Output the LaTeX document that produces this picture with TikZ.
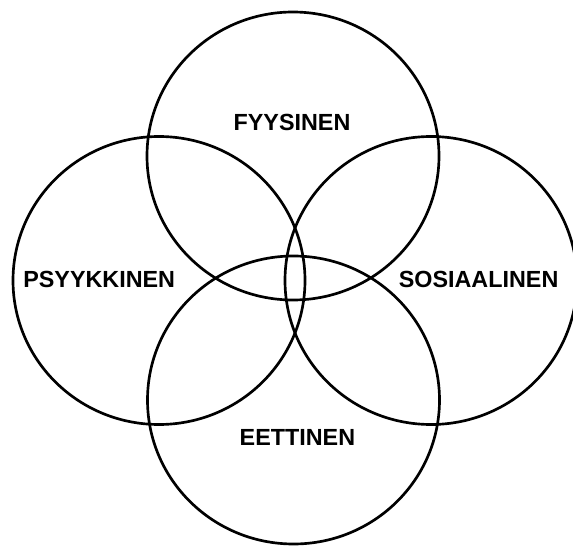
\documentclass[tikz,border=0pt]{standalone}
\usepackage{fontspec}
\setmainfont{Liberation Sans}
\usepackage{tikz}
\usetikzlibrary{positioning}

\tikzset{
  ring/.style={line width=1.9pt},
  areaname/.style={font=\fontsize{16.6}{20}\selectfont\bfseries, inner sep=0pt}
}

\begin{document}
\begin{tikzpicture}[x=0.025cm, y=-0.025cm]
        \useasboundingbox (0,0) rectangle (573,546);
        \draw[ring] (293,156) ellipse [x radius=146, y radius=144];
        \draw[ring] (159,280.5) ellipse [x radius=146, y radius=144];
        \draw[ring] (431,280.5) ellipse [x radius=146, y radius=144];
        \draw[ring] (293.5,400) ellipse [x radius=146, y radius=144];
        \node[areaname] (fyys) at (292,122.6) {FYYSINEN};
        \node[areaname] (psyk) at (99.2,279) {PSYYKKINEN};
        \node[areaname] (sos) at (478.6,279) {SOSIAALINEN};
        \node[areaname] (eet) at (297.4,437) {EETTINEN};
      \end{tikzpicture}
\end{document}
